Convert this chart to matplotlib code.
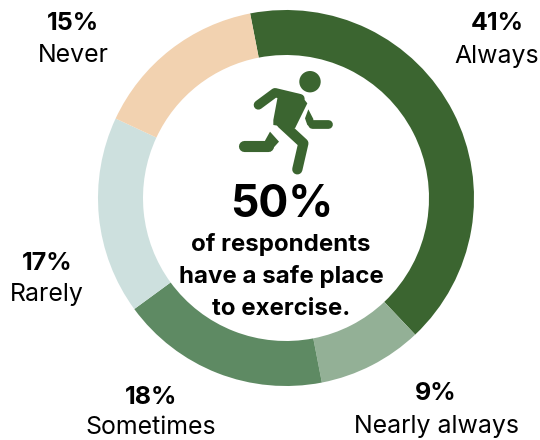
import matplotlib
matplotlib.use('Agg')
import matplotlib.pyplot as plt
from matplotlib.patches import Circle, Polygon

plt.rcParams['font.family'] = ['Inter', 'DejaVu Sans']

labels = ['Always', 'Nearly always', 'Sometimes', 'Rarely', 'Never']
values = [41, 9, 18, 17, 15]
colors = ['#3b6530', '#93b096', '#5e8a63', '#cde0de', '#f2d2b0']
pct_pos = [(497, 23), (436, 393), (151, 397), (47, 263), (73, 23)]
name_pos = [(497, 56), (436, 426), (151, 428), (47, 295), (73, 56)]

fig = plt.figure(figsize=(5.4, 4.4), dpi=100)
ax = fig.add_axes([0, 0, 1, 1])

# y axis is flipped below, so the angle is negative and counterclock is really clockwise
ax.pie(values, colors=colors, startangle=-101, counterclock=True, radius=188,
       center=(286, 198), wedgeprops=dict(width=45, linewidth=0), frame=True)
ax.set_xlim(0, 540)
ax.set_ylim(440, 0)
ax.set_aspect('auto')
ax.axis('off')

for i in range(len(labels)):
    ax.text(pct_pos[i][0], pct_pos[i][1], str(values[i]) + '%', ha='center', va='center',
            fontsize=18, fontweight='bold', color='black')
    ax.text(name_pos[i][0], name_pos[i][1], labels[i], ha='center', va='center',
            fontsize=17.9, color='black')

g = '#3b6530'
def z(pts):
    return [(220 + p[0] / 3, 60 + p[1] / 3) for p in pts]
def stroke(pts, w):
    p = z(pts)
    ax.plot([a[0] for a in p], [a[1] for a in p], color=g, lw=w, solid_capstyle='round', solid_joinstyle='round')

ax.add_patch(Circle((310, 81.7), 10.7, color=g, lw=0))
stroke([(115, 135), (165, 98), (240, 116)], 6.7)
ax.add_patch(Polygon(z([(175, 100), (240, 102), (262, 130), (225, 205), (160, 195), (160, 180)]), color=g, lw=0))
stroke([(185, 190), (250, 250), (232, 328)], 7.4)
ax.add_patch(Polygon(z([(150, 215), (177, 245), (150, 275), (135, 242)]), color=g, lw=0))
stroke([(73, 259), (145, 259)], 8)
ax.add_patch(Polygon(z([(265, 148), (280, 177), (280, 205), (262, 195), (255, 175)]), color=g, lw=0))
stroke([(275, 191), (325, 191)], 6.3)

ax.text(282, 205, '50%', ha='center', va='center', fontsize=32, fontweight='bold')
ax.text(281, 245, 'of respondents', ha='center', va='center', fontsize=17.3, fontweight='bold')
ax.text(281, 277, 'have a safe place', ha='center', va='center', fontsize=17.3, fontweight='bold')
ax.text(281, 309, 'to exercise.', ha='center', va='center', fontsize=17.3, fontweight='bold')

fig.savefig('out.png', dpi=100)
